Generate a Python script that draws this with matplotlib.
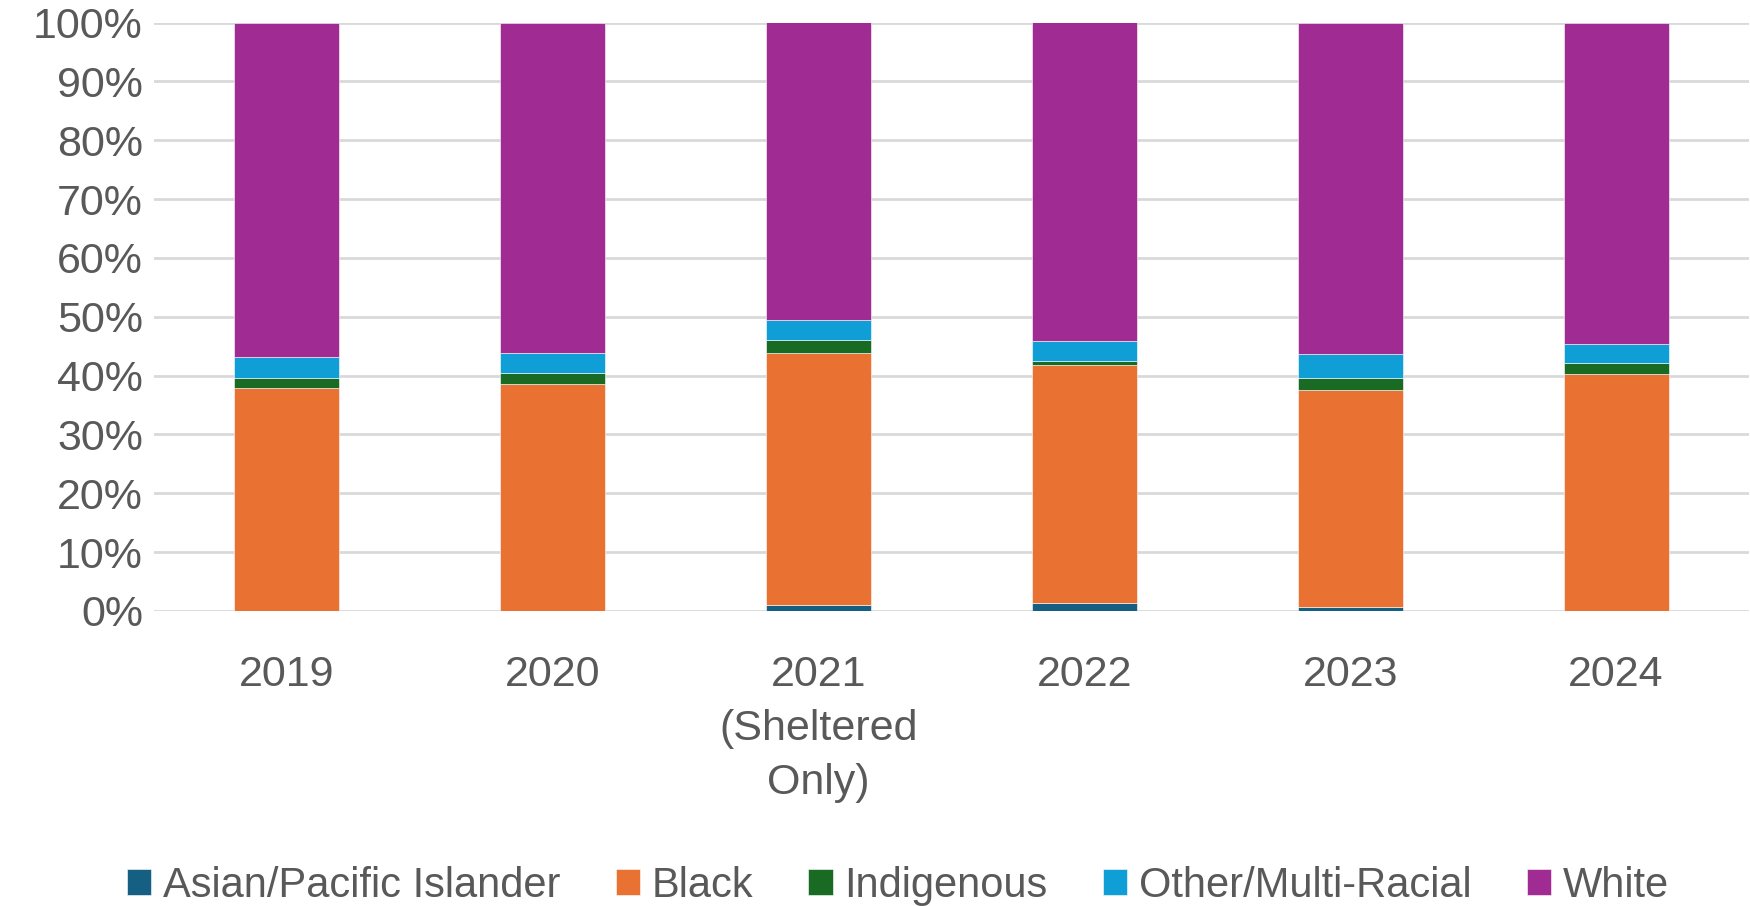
import numpy as np
import matplotlib.pyplot as plt
from matplotlib.ticker import PercentFormatter

plt.rcParams['font.family'] = ['Liberation Sans', 'DejaVu Sans']

years = ["2019", "2020", "2021\n(Sheltered\nOnly)", "2022", "2023", "2024"]

# percent of total
asian = [0.0, 0.0, 1.0, 1.35, 0.7, 0.0]
black = [37.85, 38.5, 42.9, 40.45, 36.9, 40.3]
indigenous = [1.8, 1.9, 2.15, 0.7, 2.05, 1.85]
other = [3.55, 3.5, 3.35, 3.3, 3.95, 3.25]
white = [56.8, 56.1, 50.6, 54.2, 56.4, 54.6]

series = [
    ("Asian/Pacific Islander", asian, "#156082"),
    ("Black", black, "#E97132"),
    ("Indigenous", indigenous, "#196B24"),
    ("Other/Multi-Racial", other, "#0F9ED5"),
    ("White", white, "#A02B93"),
]

fig = plt.figure(figsize=(17.5, 9.06), dpi=100)
ax = fig.add_axes([154 / 1750, 1 - 611 / 906, (1749 - 154) / 1750, (611 - 22.5) / 906])

x = np.arange(len(years))
bottom = np.zeros(len(years))
handles = []
for name, vals, color in series:
    vals = np.array(vals)
    bars = ax.bar(x, vals, 0.395, bottom=bottom, color=color, label=name, zorder=3,
                  edgecolor="white", linewidth=0.4)
    bottom += vals
    handles.append(bars)

ax.set_xlim(-0.5, len(years) - 0.5)
ax.set_ylim(0, 100)
ax.set_yticks(np.arange(0, 101, 10))
ax.yaxis.set_major_formatter(PercentFormatter(decimals=0))
ax.set_xticks(x)
ax.set_xticklabels(years, linespacing=1.45)

ax.grid(axis="y", color="#d9d9d9", linewidth=2, zorder=0)
for s in ax.spines.values():
    s.set_visible(False)
ax.tick_params(axis="both", length=0, labelsize=31, colors="#595959")
ax.tick_params(axis="y", pad=8)
ax.tick_params(axis="x", pad=32)

leg = fig.legend(handles=handles, loc="center", bbox_to_anchor=(0.513, 1 - 886 / 906),
                 ncol=5, frameon=False, fontsize=30, handlelength=0.58, handleheight=0.58,
                 handletextpad=0.28, columnspacing=1.33)
for t in leg.get_texts():
    t.set_color("#595959")

fig.savefig("out.png", dpi=100)
